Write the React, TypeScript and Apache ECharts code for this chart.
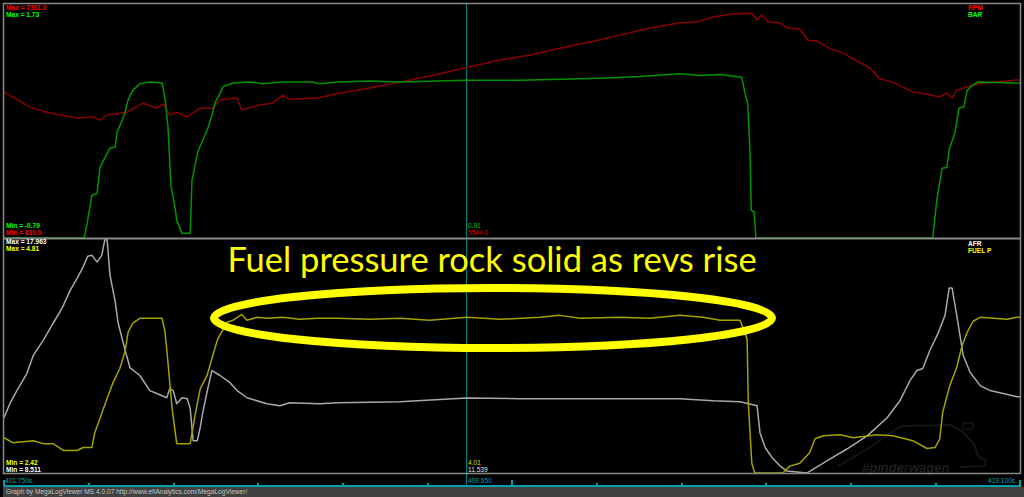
import React, { useEffect, useRef } from 'react';
import * as echarts from 'echarts';

// ---- time range (s) ----
const T_START = 401.75;
const T_END = 419.1;
const CURSOR_T = 409.65;

// ---- scale ranges shown by the viewer ----
const RPM_MIN = 830.0, RPM_MAX = 7301.0;
const BAR_MIN = -0.79, BAR_MAX = 1.73;
const AFR_MIN = 8.511, AFR_MAX = 17.963;
const FUELP_MIN = 2.42, FUELP_MAX = 4.81;

// ---- cursor readouts ----
const CURSOR_BAR = '0.91';
const CURSOR_RPM = '5544.0';
const CURSOR_FUELP = '4.01';
const CURSOR_AFR = '11.539';

// ---- series [time s, value] ----
const RPM: [number, number][] = [
  [401.75, 4870], [401.90, 4730], [402.19, 4450], [402.48, 4310], [402.71, 4230], [403.00, 4150],
  [403.27, 4180], [403.39, 4090], [403.51, 4230], [403.85, 4310], [404.12, 4560], [404.36, 4420],
  [404.47, 4540], [404.58, 4230], [404.70, 4310], [404.88, 4180], [405.10, 4420], [405.32, 4420],
  [405.44, 4650], [405.73, 4700], [405.81, 4370], [406.12, 4510], [406.34, 4560], [406.51, 4780],
  [406.63, 4670], [407.10, 4700], [407.49, 4840], [408.00, 4980], [408.51, 5140], [409.02, 5310],
  [409.65, 5544], [410.22, 5750], [410.73, 5890], [411.24, 6080], [411.76, 6250], [412.27, 6440],
  [412.78, 6640], [413.29, 6780], [413.58, 6800], [413.86, 6940], [414.15, 7020], [414.52, 7050],
  [414.61, 6860], [414.69, 7000], [414.80, 6800], [415.00, 6780], [415.12, 6640], [415.34, 6610],
  [415.48, 6300], [415.63, 6280], [415.86, 6060], [416.08, 5950], [416.25, 5780], [416.54, 5530],
  [416.71, 5230], [416.93, 5140], [417.27, 4870], [417.51, 4810], [417.73, 4730], [417.85, 4840],
  [417.94, 4700], [418.02, 4920], [418.30, 5060], [418.54, 5120], [419.05, 5200], [419.10, 5200],
];

const BAR: [number, number][] = [
  [401.75, -0.79], [403.12, -0.79], [403.17, -0.63], [403.25, -0.33], [403.34, -0.31], [403.39, -0.03],
  [403.47, 0.07], [403.56, 0.18], [403.65, 0.19], [403.68, 0.35], [403.77, 0.48], [403.82, 0.57],
  [403.87, 0.70], [403.95, 0.80], [404.07, 0.87], [404.24, 0.89], [404.45, 0.88], [404.50, 0.71],
  [404.55, 0.41], [404.60, -0.22], [404.67, -0.46], [404.70, -0.60], [404.79, -0.74], [404.93, -0.74],
  [404.96, -0.17], [405.06, 0.14], [405.15, 0.27], [405.23, 0.39], [405.30, 0.53], [405.35, 0.66],
  [405.44, 0.77], [405.49, 0.84], [405.66, 0.88], [405.95, 0.89], [406.17, 0.87], [406.51, 0.89],
  [407.02, 0.89], [407.14, 0.87], [407.44, 0.89], [408.00, 0.90], [408.51, 0.89], [409.65, 0.91],
  [410.56, 0.91], [411.93, 0.93], [412.60, 0.95], [413.29, 0.98], [413.64, 0.96], [413.98, 0.97],
  [414.35, 0.94], [414.40, 0.78], [414.45, 0.66], [414.49, 0.13], [414.51, -0.49], [414.56, -0.51],
  [414.59, -0.79], [417.61, -0.79], [417.68, -0.38], [417.77, -0.04], [417.85, -0.03], [417.89, 0.16],
  [417.99, 0.35], [418.06, 0.61], [418.14, 0.62], [418.20, 0.80], [418.28, 0.85], [418.38, 0.89],
  [419.05, 0.88], [419.10, 0.88],
];

const AFR: [number, number][] = [
  [401.75, 10.74], [401.85, 11.31], [401.97, 11.84], [402.14, 12.53], [402.25, 13.26], [402.42, 13.87],
  [402.59, 14.56], [402.74, 15.16], [402.88, 15.89], [403.00, 16.38], [403.10, 16.83], [403.18, 17.27],
  [403.25, 17.31], [403.34, 17.03], [403.42, 17.31], [403.47, 17.92], [403.51, 17.96], [403.56, 16.50],
  [403.65, 15.41], [403.70, 14.56], [403.82, 13.46], [403.90, 12.77], [404.07, 12.45], [404.24, 11.84],
  [404.36, 11.72], [404.53, 11.55], [404.58, 11.92], [404.64, 11.84], [404.70, 11.31], [404.79, 11.55],
  [404.88, 11.51], [404.93, 11.11], [404.98, 9.81], [405.05, 9.81], [405.10, 10.34], [405.15, 11.03],
  [405.23, 11.92], [405.30, 12.65], [405.44, 12.45], [405.61, 12.16], [405.73, 11.84], [405.90, 11.55],
  [406.24, 11.31], [406.46, 11.23], [406.63, 11.35], [407.14, 11.31], [407.44, 11.35], [408.51, 11.39],
  [409.65, 11.54], [410.56, 11.51], [411.93, 11.51], [413.29, 11.51], [413.86, 11.43], [414.32, 11.39],
  [414.61, 11.23], [414.66, 10.13], [414.75, 9.53], [414.87, 9.12], [415.00, 8.80], [415.12, 8.59],
  [415.46, 8.51], [415.57, 8.67], [415.86, 9.08], [416.15, 9.49], [416.49, 10.01], [416.83, 10.74],
  [417.05, 11.43], [417.22, 12.24], [417.34, 12.65], [417.44, 12.73], [417.56, 13.46], [417.70, 14.15],
  [417.82, 14.88], [417.89, 15.98], [417.94, 15.98], [418.02, 14.88], [418.13, 13.26], [418.25, 12.57],
  [418.42, 12.04], [418.59, 11.84], [419.05, 11.59], [419.10, 11.59],
];

const FUELP: [number, number][] = [
  [401.75, 2.78], [401.90, 2.73], [402.25, 2.75], [402.42, 2.72], [402.59, 2.72], [402.76, 2.65],
  [403.00, 2.65], [403.10, 2.68], [403.25, 2.68], [403.30, 2.83], [403.39, 2.98], [403.51, 3.18],
  [403.61, 3.34], [403.73, 3.49], [403.82, 3.67], [403.87, 3.86], [403.95, 3.95], [404.07, 4.00],
  [404.45, 4.00], [404.50, 3.86], [404.55, 3.55], [404.62, 3.08], [404.70, 2.72], [404.93, 2.72],
  [405.01, 3.00], [405.10, 3.28], [405.22, 3.42], [405.30, 3.59], [405.40, 3.79], [405.56, 3.96],
  [405.66, 3.98], [405.81, 4.04], [405.90, 3.98], [406.07, 4.01], [406.24, 4.00], [406.51, 4.01],
  [406.80, 3.99], [407.10, 4.00], [407.44, 4.00], [408.00, 3.99], [408.51, 4.00], [409.02, 3.98],
  [409.65, 4.01], [410.22, 3.99], [410.90, 4.01], [411.24, 4.03], [411.59, 4.00], [412.27, 4.01],
  [412.78, 4.00], [413.29, 4.03], [413.69, 4.01], [413.98, 3.98], [414.32, 3.98], [414.44, 3.79],
  [414.46, 3.14], [414.52, 2.52], [414.57, 2.42], [415.05, 2.42], [415.17, 2.49], [415.34, 2.52],
  [415.51, 2.63], [415.60, 2.77], [415.74, 2.80], [416.03, 2.81], [416.25, 2.78], [416.66, 2.81],
  [416.93, 2.80], [417.27, 2.75], [417.51, 2.67], [417.65, 2.68], [417.73, 2.77], [417.78, 3.04],
  [417.90, 3.31], [418.02, 3.50], [418.11, 3.72], [418.20, 3.86], [418.30, 3.97], [418.42, 4.01],
  [418.88, 3.99], [419.05, 4.01], [419.10, 4.01],
];

const TIME_DIVISIONS = 12;
const ANNOTATION = 'Fuel pressure rock solid as revs rise';
const FOOTER = 'Graph by MegaLogViewer MS 4.0.07 http://www.efiAnalytics.com/MegaLogViewer/';

const C_RPM = '#8a0000';
const C_BAR = '#009400';
const C_AFR = '#a9a9a9';
const C_FUELP = '#a3a300';
const C_TEAL = '#00a0a8';

const small = (weight: string) => `${weight} 6.6px "Liberation Sans", Arial, sans-serif`;

function txt(text: string, x: number, y: number, fill: string, opts: any = {}) {
  return {
    type: 'text',
    z: 120,
    x,
    y,
    style: {
      text,
      fill,
      font: opts.font || small('bold'),
      lineHeight: 6.6,
      align: opts.align || 'left',
      textAlign: opts.align || 'left',
      verticalAlign: 'middle',
      textVerticalAlign: 'middle',
    },
  };
}

function hiddenAxis(extra: any) {
  return {
    type: 'value',
    show: false,
    axisLine: { show: false },
    axisTick: { show: false },
    axisLabel: { show: false },
    splitLine: { show: false },
    ...extra,
  };
}

function lineSeries(name: string, data: [number, number][], color: string, xi: number, yi: number) {
  return {
    name,
    type: 'line',
    xAxisIndex: xi,
    yAxisIndex: yi,
    data,
    symbol: 'none',
    showSymbol: false,
    clip: true,
    lineStyle: { color, width: 1.5 },
    itemStyle: { color },
    z: 5,
  };
}

export default function App() {
  const ref = useRef<HTMLDivElement>(null);

  useEffect(() => {
    if (!ref.current) return;
    const chart = echarts.init(ref.current, undefined, { renderer: 'svg' });

    const option: any = {
      animation: false,
      backgroundColor: '#000000',
      grid: [
        { left: 4, top: 4, width: 1016, height: 234, show: false },
        { left: 4, top: 239, width: 1016, height: 234, show: false },
        { left: 4, top: 4, width: 1016, height: 482, show: false },
      ],
      xAxis: [
        hiddenAxis({ gridIndex: 0, min: T_START, max: T_END }),
        hiddenAxis({ gridIndex: 1, min: T_START, max: T_END }),
        {
          type: 'value',
          gridIndex: 2,
          min: 0,
          max: TIME_DIVISIONS,
          interval: 1,
          position: 'bottom',
          axisLine: { show: true, onZero: false, lineStyle: { color: C_TEAL, width: 2 } },
          axisTick: { show: true, inside: true, length: 3, lineStyle: { color: C_TEAL, width: 2 } },
          axisLabel: { show: false },
          splitLine: { show: false },
        },
        {
          type: 'value',
          gridIndex: 2,
          min: 0,
          max: 2,
          interval: 1,
          position: 'bottom',
          axisLine: { show: false, onZero: false },
          axisTick: { show: true, inside: true, length: 6, lineStyle: { color: C_TEAL, width: 2 } },
          axisLabel: { show: false },
          splitLine: { show: false },
        },
        hiddenAxis({ gridIndex: 2, min: T_START, max: T_END }),
      ],
      yAxis: [
        hiddenAxis({ gridIndex: 0, min: RPM_MIN, max: RPM_MAX }),
        hiddenAxis({ gridIndex: 0, min: BAR_MIN, max: BAR_MAX }),
        hiddenAxis({ gridIndex: 1, min: AFR_MIN, max: AFR_MAX }),
        hiddenAxis({ gridIndex: 1, min: FUELP_MIN, max: FUELP_MAX }),
        hiddenAxis({ gridIndex: 2, min: 0, max: 1 }),
      ],
      series: [
        {
          name: 'cursor',
          type: 'line',
          xAxisIndex: 4,
          yAxisIndex: 4,
          data: [[CURSOR_T, 0], [CURSOR_T, 1]],
          symbol: 'none',
          lineStyle: { color: '#008c8c', width: 1 },
          z: 3,
        },
        lineSeries('RPM', RPM, C_RPM, 0, 0),
        lineSeries('BAR', BAR, C_BAR, 0, 1),
        lineSeries('AFR', AFR, C_AFR, 1, 2),
        lineSeries('FUEL P', FUELP, C_FUELP, 1, 3),
      ],
      graphic: [
        // watermark
        {
          type: 'polyline',
          z: 1,
          shape: {
            points: [
              [838, 466], [852, 458], [872, 446], [892, 432], [902, 426], [950, 425], [962, 431],
              [974, 444], [978, 456], [986, 461], [984, 466], [960, 467],
            ],
          },
          style: { stroke: '#151515', lineWidth: 2, fill: 'none' },
        },
        { type: 'rect', z: 1, shape: { x: 963, y: 423, width: 10, height: 6 }, style: { stroke: '#151515', lineWidth: 1.5, fill: 'none' } },
        {
          type: 'text', z: 1, x: 862, y: 467,
          style: {
            text: '#pinderwagen', fill: '#1e1e1e',
            font: 'italic bold 13px "Liberation Sans", Arial, sans-serif',
            verticalAlign: 'middle', textVerticalAlign: 'middle',
          },
        },
        // frame
        { type: 'rect', z: 110, shape: { x: 3.5, y: 3.5, width: 1017, height: 470 }, style: { stroke: '#8a8a8a', lineWidth: 1.5, fill: 'none' } },
        { type: 'line', z: 110, shape: { x1: 3, y1: 238.5, x2: 1021, y2: 238.5 }, style: { stroke: '#8a8a8a', lineWidth: 2 } },
        // footer
        { type: 'rect', z: 110, shape: { x: 3, y: 487, width: 1021, height: 10 }, style: { fill: '#404040' } },
        txt(FOOTER, 6, 491.5, '#c4c4c4', { font: '6.6px "Liberation Sans", Arial, sans-serif' }),
        // top panel labels
        txt(`Max = ${RPM_MAX.toFixed(1)}`, 6, 7.5, '#ff0000'),
        txt(`Max = ${BAR_MAX.toFixed(2)}`, 6, 14.5, '#00ff00'),
        txt('RPM', 968, 7.5, '#ff0000'),
        txt('BAR', 968, 14.5, '#00ff00'),
        txt(`Min = ${BAR_MIN.toFixed(2)}`, 6, 225.5, '#00ff00'),
        txt(`Min = ${RPM_MIN.toFixed(1)}`, 6, 232.5, '#ff0000'),
        txt(CURSOR_BAR, 468, 225.5, '#00c000', { font: small('normal') }),
        txt(CURSOR_RPM, 468, 232.5, '#e00000', { font: small('normal') }),
        // bottom panel labels
        txt(`Max = ${AFR_MAX.toFixed(3)}`, 6, 241, '#ffffff'),
        txt(`Max = ${FUELP_MAX.toFixed(2)}`, 6, 248, '#ffff00'),
        txt('AFR', 968, 243, '#ffffff'),
        txt('FUEL P', 968, 250, '#ffff00'),
        txt(`Min = ${FUELP_MIN.toFixed(2)}`, 6, 462, '#ffff00'),
        txt(`Min = ${AFR_MIN.toFixed(3)}`, 6, 469, '#ffffff'),
        txt(CURSOR_FUELP, 468, 462, '#d8d800', { font: small('normal') }),
        txt(CURSOR_AFR, 468, 469, '#e0e0e0', { font: small('normal') }),
        // time labels
        txt(`${T_START.toFixed(3)}s.`, 5, 480, C_TEAL, { font: small('normal') }),
        txt(CURSOR_T.toFixed(3), 468, 480, C_TEAL, { font: small('normal') }),
        txt(`${T_END.toFixed(3)}s.`, 1017, 480, C_TEAL, { font: small('normal'), align: 'right' }),
        // annotation
        {
          type: 'ellipse', z: 130,
          shape: { cx: 493, cy: 318, rx: 279, ry: 30 },
          style: { stroke: '#ffff00', lineWidth: 8, fill: 'none' },
        },
        {
          type: 'text', z: 130, x: 492, y: 258,
          style: {
            text: ANNOTATION, fill: '#ffff00',
            font: '34.5px Lato, "Open Sans", sans-serif',
            align: 'center', textAlign: 'center',
            verticalAlign: 'middle', textVerticalAlign: 'middle',
          },
        },
      ],
    };

    chart.setOption(option);
    return () => chart.dispose();
  }, []);

  return (
    <div
      ref={ref}
      style={{ position: 'fixed', left: 0, top: 0, width: 1024, height: 497, background: '#000' }}
    />
  );
}
